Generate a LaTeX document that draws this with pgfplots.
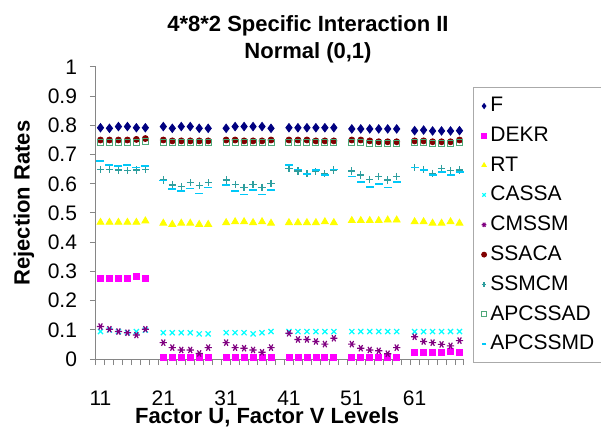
\documentclass[border=0pt]{standalone}
\usepackage{pgfplots}
\pgfplotsset{compat=1.18}
\usepackage{pgfplotstable}
\usepackage{fontspec}
\setmainfont{Liberation Sans}
\definecolor{axgray}{HTML}{868686}
\definecolor{cF}{HTML}{000080}
\definecolor{cDEKR}{HTML}{FF00FF}
\definecolor{cRT}{HTML}{FFFF00}
\definecolor{cCASSA}{HTML}{00FFFF}
\definecolor{cCMSSM}{HTML}{800080}
\definecolor{cSSACA}{HTML}{800000}
\definecolor{cSSMCM}{HTML}{2E9E9E}
\definecolor{cAPCSSAD}{HTML}{4DA878}
\definecolor{cAPCSSMD}{HTML}{00C8F8}

\pgfplotstableread{
x  F     DEKR  RT    CASSA CMSSM SSACA SSMCM APCSSAD APCSSMD
0  0.792 0.276 0.468 0.094 0.111 0.750 0.649 0.743 0.678
1  0.790 0.276 0.468 0.099 0.102 0.750 0.649 0.743 0.664
2  0.796 0.276 0.468 0.094 0.094 0.750 0.647 0.743 0.661
3  0.796 0.276 0.468 0.090 0.090 0.750 0.645 0.743 0.664
4  0.792 0.282 0.468 0.094 0.082 0.752 0.647 0.743 0.656
5  0.792 0.276 0.473 0.099 0.102 0.755 0.649 0.745 0.661
7  0.796 0.005 0.465 0.090 0.056 0.750 0.613 0.743 0.611
8  0.790 0.005 0.461 0.090 0.039 0.747 0.596 0.740 0.582
9  0.796 0.005 0.465 0.090 0.031 0.747 0.590 0.740 0.575
10 0.796 0.005 0.465 0.090 0.031 0.747 0.604 0.740 0.584
11 0.790 0.005 0.461 0.086 0.019 0.747 0.593 0.740 0.567
12 0.790 0.005 0.461 0.086 0.039 0.747 0.604 0.740 0.588
14 0.790 0.005 0.467 0.090 0.056 0.750 0.613 0.743 0.596
15 0.796 0.005 0.470 0.090 0.039 0.750 0.598 0.743 0.575
16 0.796 0.005 0.470 0.090 0.037 0.747 0.588 0.740 0.564
17 0.796 0.005 0.467 0.086 0.031 0.747 0.598 0.740 0.579
18 0.796 0.005 0.470 0.090 0.023 0.747 0.588 0.740 0.564
19 0.790 0.005 0.465 0.094 0.039 0.750 0.601 0.743 0.579
21 0.792 0.005 0.467 0.094 0.088 0.750 0.653 0.743 0.664
22 0.792 0.005 0.467 0.094 0.067 0.750 0.644 0.743 0.649
23 0.792 0.005 0.467 0.094 0.067 0.750 0.634 0.743 0.634
24 0.792 0.005 0.467 0.094 0.060 0.747 0.641 0.740 0.647
25 0.792 0.005 0.470 0.094 0.051 0.747 0.634 0.740 0.630
26 0.792 0.005 0.467 0.094 0.071 0.747 0.647 0.740 0.649
28 0.788 0.005 0.474 0.094 0.051 0.750 0.644 0.743 0.625
29 0.788 0.005 0.474 0.094 0.037 0.750 0.630 0.740 0.607
30 0.788 0.005 0.474 0.094 0.031 0.747 0.615 0.737 0.590
31 0.788 0.005 0.474 0.094 0.028 0.744 0.625 0.737 0.599
32 0.788 0.005 0.476 0.094 0.018 0.744 0.613 0.737 0.588
33 0.788 0.005 0.476 0.094 0.039 0.744 0.625 0.737 0.607
35 0.782 0.022 0.470 0.094 0.076 0.747 0.656 0.740 0.656
36 0.784 0.022 0.470 0.094 0.060 0.747 0.649 0.740 0.647
37 0.781 0.022 0.465 0.094 0.056 0.744 0.636 0.737 0.630
38 0.781 0.022 0.465 0.094 0.050 0.744 0.653 0.737 0.641
39 0.781 0.025 0.470 0.094 0.045 0.744 0.645 0.737 0.630
40 0.782 0.022 0.465 0.094 0.063 0.750 0.647 0.743 0.641
}\data

\begin{document}
\begin{tikzpicture}
\begin{axis}[
  scale only axis, width=184bp, height=146bp,
  xmin=-0.5, xmax=40.5, ymin=0, ymax=1,
  axis x line*=bottom, axis y line*=left,
  axis line style={draw=axgray, line width=0.5bp},
  every tick/.style={draw=axgray, line width=0.5bp},
  tick align=outside, major tick length=3bp, minor tick length=3bp,
  xtick={0,7,14,21,28,35}, xticklabels={11,21,31,41,51,61},
  minor xtick={-0.5,0.5,...,40.5},
  major x tick style={draw=none},
  minor x tick style={draw=axgray, line width=0.5bp},
  ytick={0,0.1,0.2,0.3,0.4,0.5,0.6,0.7,0.8,0.9,1},
  yticklabels={0,0.1,0.2,0.3,0.4,0.5,0.6,0.7,0.8,0.9,1},
  tick label style={font=\fontsize{10.5bp}{12bp}\selectfont},
  xticklabel shift=7.5bp,
  xticklabel style={text height=9.2bp},
  yticklabel style={xshift=-3bp},
  /pgf/number format/assume math mode=true,
  xlabel={Factor U, Factor V Levels},
  ylabel={Rejection Rates},
  label style={font=\bfseries\fontsize{11bp}{13bp}\selectfont},
  x label style={at={(rel axis cs:0.465,-0.199)}, anchor=center},
  y label style={at={(rel axis cs:-0.196,0.534)}, anchor=center},
  legend style={at={(rel axis cs:1.025,0.932)}, anchor=north west,
    draw=axgray!70, line width=0.5bp, font=\fontsize{10.5bp}{12bp}\selectfont,
    row sep=2.1bp, inner xsep=4bp, inner ysep=3bp},
  legend cell align=left,
  legend image code/.code={\draw[#1, mark size=1.2bp] plot coordinates {(2bp,0bp)};},
  clip=false,
]
\addplot[only marks, mark=diamond*, mark size=2.1bp, color=cF] table[x=x,y=F]{\data};
\addlegendentry{F}
\addplot[only marks, mark=square*, mark size=1.5bp, color=cDEKR] table[x=x,y=DEKR]{\data};
\addlegendentry{DEKR}
\addplot[only marks, mark=triangle*, mark size=2bp, color=cRT] table[x=x,y=RT]{\data};
\addlegendentry{RT}
\addplot[only marks, mark=x, mark size=1.8bp, line width=0.6bp, color=cCASSA] table[x=x,y=CASSA]{\data};
\addlegendentry{CASSA}
\addplot[only marks, mark=asterisk, mark size=1.8bp, line width=0.6bp, color=cCMSSM, mark options={rotate=90}] table[x=x,y=CMSSM]{\data};
\addlegendentry{CMSSM}
\addplot[only marks, mark=*, mark size=1.5bp, color=cSSACA] table[x=x,y=SSACA]{\data};
\addlegendentry{SSACA}
\addplot[only marks, mark=+, mark size=1.8bp, line width=0.6bp, color=cSSMCM] table[x=x,y=SSMCM]{\data};
\addlegendentry{SSMCM}
\addplot[only marks, mark=square, mark size=1.5bp, line width=0.5bp, color=cAPCSSAD] table[x=x,y=APCSSAD]{\data};
\addlegendentry{APCSSAD}
\addplot[only marks, mark=-, mark size=2bp, line width=0.8bp, color=cAPCSSMD] table[x=x,y=APCSSMD]{\data};
\addlegendentry{APCSSMD}
\end{axis}
\node[font=\bfseries\fontsize{11bp}{13bp}\selectfont, align=center] at (106bp,159.7bp) {4*8*2 Specific Interaction II\\[0.5bp]Normal (0,1)};
\pgfresetboundingbox
\path[use as bounding box] (-48bp,-35bp) rectangle (252.5bp,179.5bp);
\end{tikzpicture}
\end{document}
